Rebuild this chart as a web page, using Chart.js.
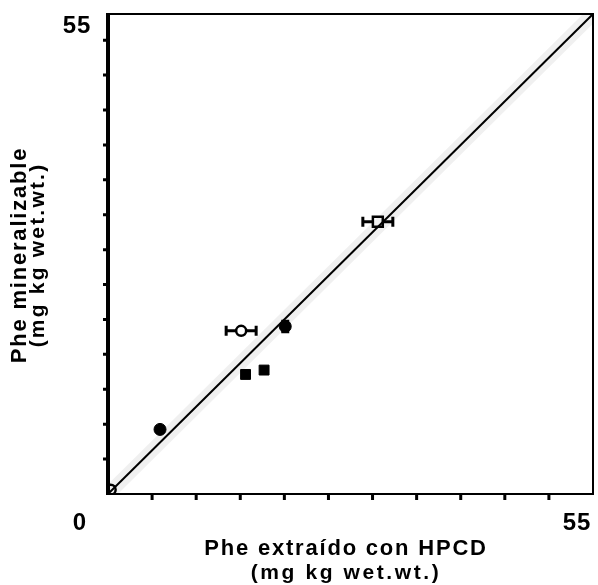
<!DOCTYPE html>
<html lang="es">
<head>
  <meta charset="UTF-8">
  <title>Phe mineralizable vs Phe extraído con HPCD</title>
  <script src="https://cdn.jsdelivr.net/npm/chart.js@4.4.1/dist/chart.umd.min.js"></script>
  <style>
    html, body { margin: 0; padding: 0; background: #fff; overflow: hidden; }
    canvas { display: block; }
  </style>
</head>
<body>
  <canvas id="chart" width="598" height="585"></canvas>

  <script>
    // eje 0..55 en ambos ejes, línea 1:1
    const axisMin = 0;
    const axisMax = 55;
    const oneToOne = [0, 55];

    // suelos (símbolo lleno / abierto)
    const filledCircleX = [5.9, 20.1];
    const filledCircleY = [7.4, 19.2];
    const filledCircleErrY = [0, 0.6];

    const filledSquareX = [15.6, 17.7];
    const filledSquareY = [13.7, 14.2];

    const openCircleX = [15.1, 0.3];
    const openCircleY = [18.7, 0.5];
    const openCircleErrX = [1.7, 0];

    const openSquareX = [30.6];
    const openSquareY = [31.2];
    const openSquareErrX = [1.7];

    const xTitle = ['Phe extraído con HPCD', '(mg kg wet.wt.)'];
    const yTitle = ['Phe mineralizable', '(mg kg wet.wt.)'];

    const toPoints = (xs, ys) => xs.map((x, i) => ({ x: x, y: ys[i] }));

    const FONT = '"Liberation Sans", Arial, sans-serif';

    // barras de error, marco, marcas y textos
    const paperPlugin = {
      id: 'paper',
      beforeDatasetsDraw(chart) {
        const { ctx, scales: { x, y } } = chart;
        ctx.save();
        ctx.strokeStyle = '#000';
        ctx.lineCap = 'butt';
        ctx.lineWidth = 3;

        const hBar = (xs, ys, errs) => {
          xs.forEach((v, i) => {
            if (!errs[i]) return;
            const py = y.getPixelForValue(ys[i]);
            const x0 = x.getPixelForValue(v - errs[i]);
            const x1 = x.getPixelForValue(v + errs[i]);
            ctx.beginPath();
            ctx.moveTo(x0, py); ctx.lineTo(x1, py);
            ctx.moveTo(x0, py - 5); ctx.lineTo(x0, py + 5);
            ctx.moveTo(x1, py - 5); ctx.lineTo(x1, py + 5);
            ctx.stroke();
          });
        };
        const vBar = (xs, ys, errs) => {
          xs.forEach((v, i) => {
            if (!errs[i]) return;
            const px = x.getPixelForValue(v);
            const y0 = y.getPixelForValue(ys[i] - errs[i]);
            const y1 = y.getPixelForValue(ys[i] + errs[i]);
            ctx.beginPath();
            ctx.moveTo(px, y0); ctx.lineTo(px, y1);
            ctx.moveTo(px - 4, y0); ctx.lineTo(px + 4, y0);
            ctx.moveTo(px - 4, y1); ctx.lineTo(px + 4, y1);
            ctx.stroke();
          });
        };
        hBar(openCircleX, openCircleY, openCircleErrX);
        hBar(openSquareX, openSquareY, openSquareErrX);
        vBar(filledCircleX, filledCircleY, filledCircleErrY);
        ctx.restore();
      },
      afterDraw(chart) {
        const { ctx, chartArea: a, scales: { x, y } } = chart;
        ctx.save();
        ctx.strokeStyle = '#000';

        // marco
        ctx.lineWidth = 2;
        ctx.strokeRect(a.left, a.top, a.right - a.left, a.bottom - a.top);
        ctx.lineWidth = 4;
        ctx.beginPath();
        ctx.moveTo(a.left, a.top - 1); ctx.lineTo(a.left, a.bottom + 1);
        ctx.stroke();

        // marcas hacia afuera
        ctx.lineWidth = 3;
        ctx.beginPath();
        for (let v = axisMin + 5; v < axisMax; v += 5) {
          const px = x.getPixelForValue(v);
          ctx.moveTo(px, a.bottom); ctx.lineTo(px, a.bottom + 6);
        }
        for (let v = axisMin + 4; v < axisMax; v += 4) {
          const py = y.getPixelForValue(v);
          ctx.moveTo(a.left, py); ctx.lineTo(a.left - 5, py);
        }
        ctx.stroke();

        // etiquetas de los extremos
        ctx.fillStyle = '#000';
        ctx.letterSpacing = '1px';
        ctx.font = 'bold 24px ' + FONT;
        ctx.textBaseline = 'middle';
        ctx.textAlign = 'center';
        ctx.fillText(String(axisMin), 80, a.bottom + 29);
        ctx.fillText(String(axisMax), 577, a.bottom + 29);
        ctx.fillText(String(axisMax), 77, a.top + 12);

        // títulos
        ctx.letterSpacing = '1.8px';
        ctx.font = 'bold 22px ' + FONT;
        const cx = 346;
        ctx.fillText(xTitle[0], cx, a.bottom + 55);
        ctx.letterSpacing = '2.6px';
        ctx.font = 'bold 21px ' + FONT;
        ctx.fillText(xTitle[1], cx, a.bottom + 79);

        ctx.translate(0, 255);
        ctx.rotate(-Math.PI / 2);
        ctx.letterSpacing = '1.8px';
        ctx.font = 'bold 22px ' + FONT;
        ctx.fillText(yTitle[0], 0, 20);
        ctx.letterSpacing = '2.2px';
        ctx.font = 'bold 21px ' + FONT;
        ctx.fillText(yTitle[1], 0, 38);
        ctx.restore();
      }
    };

    const ctx = document.getElementById('chart').getContext('2d');
    new Chart(ctx, {
      type: 'scatter',
      data: {
        datasets: [
          {
            // halo gris del escaneo alrededor de la recta
            type: 'line',
            data: toPoints(oneToOne, oneToOne),
            borderColor: 'rgba(0,0,0,0.06)',
            borderWidth: 14,
            pointRadius: 0
          },
          {
            type: 'line',
            data: toPoints(oneToOne, oneToOne),
            borderColor: '#000',
            borderWidth: 2,
            pointRadius: 0
          },
          {
            data: toPoints(filledCircleX, filledCircleY),
            pointStyle: 'circle',
            pointRadius: 6,
            backgroundColor: '#000',
            borderColor: '#000',
            borderWidth: 1
          },
          {
            data: toPoints(filledSquareX, filledSquareY),
            pointStyle: 'rect',
            pointRadius: 7,
            backgroundColor: '#000',
            borderColor: '#000',
            borderWidth: 1
          },
          {
            data: toPoints(openCircleX, openCircleY),
            pointStyle: 'circle',
            pointRadius: 5,
            backgroundColor: '#fff',
            borderColor: '#000',
            borderWidth: 2.5
          },
          {
            data: toPoints(openSquareX, openSquareY),
            pointStyle: 'rect',
            pointRadius: 7,
            backgroundColor: '#fff',
            borderColor: '#000',
            borderWidth: 2.5
          }
        ]
      },
      options: {
        responsive: false,
        animation: false,
        layout: {
          autoPadding: false,
          padding: { left: 108, top: 14, right: 5, bottom: 91 }
        },
        plugins: {
          legend: { display: false },
          tooltip: { enabled: false }
        },
        scales: {
          x: { type: 'linear', min: axisMin, max: axisMax, display: false },
          y: { type: 'linear', min: axisMin, max: axisMax, display: false }
        }
      },
      plugins: [paperPlugin]
    });
  </script>
</body>
</html>
